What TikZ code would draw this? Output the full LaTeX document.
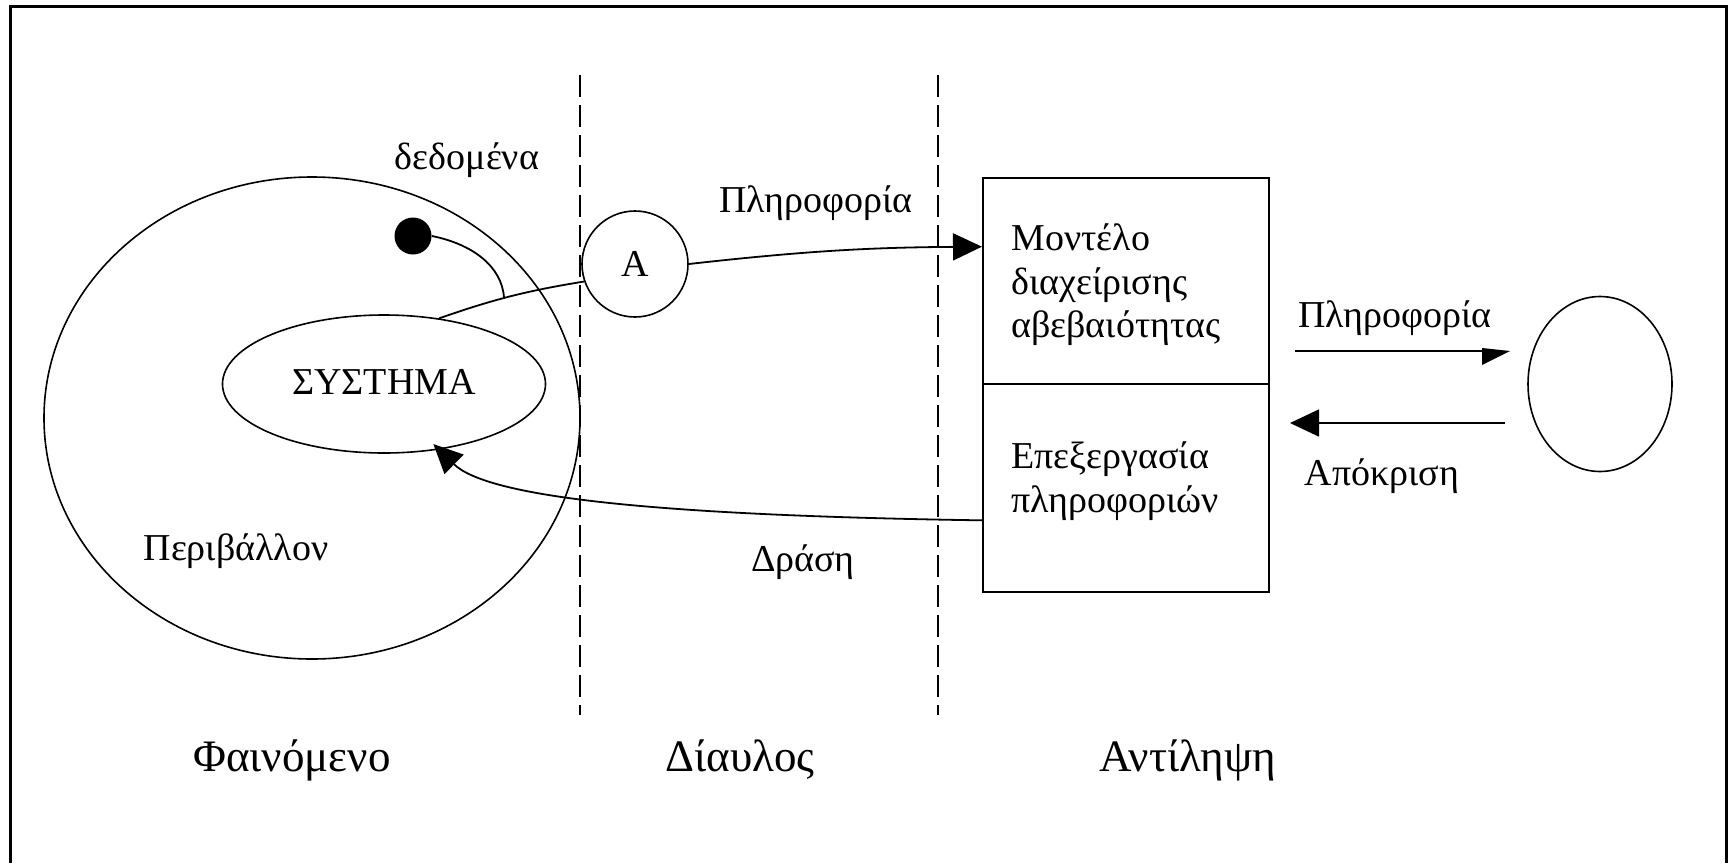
\documentclass[tikz,border=0pt]{standalone}
\usepackage{fontspec}
\setmainfont{Liberation Serif}
\usetikzlibrary{arrows.meta,calc,shapes.geometric}

\begin{document}
\begin{tikzpicture}[x=0.5pt,y=-0.5pt,
  line/.style={line width=0.9pt},
  txt/.style={inner sep=0pt, font=\fontsize{19}{22}\selectfont},
  big/.style={inner sep=0pt, font=\fontsize{22.5}{26}\selectfont},
  oval/.style={ellipse, draw, line width=0.8pt, inner sep=0pt},
  pane/.style={draw, line width=1pt, minimum width=143pt, inner sep=0pt},
  tip/.style={-{Triangle[length=14.5pt,width=13.5pt]}},
  divider/.style={dash pattern=on 11pt off 4pt, line width=1pt}
]
\useasboundingbox (0,0) rectangle (1729,863);

% open frame
\draw[line width=1.5pt] (10,863) -- (10,6) -- (1726,6) -- (1726,863);

% dashed dividers between the three zones
\draw[divider] (580,75) -- (580,715);
\draw[divider] (938,75) -- (938,715);

% phenomenon: environment, system and data point
\node[oval, minimum width=268pt, minimum height=241pt] (env) at (312,418) {};
\node[oval, minimum width=161.5pt, minimum height=69pt] (sys) at (384,384) {};
\node[txt, anchor=base] (systxt) at (384,394) {ΣΥΣΤΗΜΑ};
\node[circle, fill, minimum size=18.5pt, inner sep=0pt] (dot) at (413,236) {};
\node[txt, anchor=base] (data) at (467,169) {δεδομένα};
\node[txt, anchor=base] (envtxt) at (236,560) {Περιβάλλον};

% channel
\node[circle, draw, line width=0.8pt, minimum size=53pt, inner sep=0pt,
      font=\fontsize{19}{22}\selectfont] (A) at (635,264) {A};

% perception: two-part box and observer
\node[pane, minimum height=103pt] (model) at (1126,281) {};
\node[pane, minimum height=104pt] (proc) at (1126,488) {};
\node[txt, anchor=base west] (m1) at (1011,250) {Μοντέλο};
\node[txt, anchor=base west] (m2) at (1011,294) {διαχείρισης};
\node[txt, anchor=base west] (m3) at (1011,337) {αβεβαιότητας};
\node[txt, anchor=base west] (p1) at (1011,468) {Επεξεργασία};
\node[txt, anchor=base west] (p2) at (1011,512) {πληροφοριών};
\node[oval, minimum width=72pt, minimum height=87.5pt] (obs) at (1600,384) {};

% connector labels
\node[txt, anchor=base] (info1) at (816,212) {Πληροφορία};
\node[txt, anchor=base] (info2) at (1395,327) {Πληροφορία};
\node[txt, anchor=base] (resp) at (1382,485) {Απόκριση};
\node[txt, anchor=base] (act) at (803,571) {Δράση};

% zone titles
\node[big, anchor=base] (z1) at (292,771) {Φαινόμενο};
\node[big, anchor=base] (z2) at (740,771) {Δίαυλος};
\node[big, anchor=base] (z3) at (1188,771) {Αντίληψη};

% connectors
\draw[line] (A.199) to[bend right=5] coordinate[pos=0.55] (join) (sys.50);
\draw[line] (dot.east) .. controls +(40,8) and +(-2,-32) .. (join);
\draw[line, tip] (A.east) to[bend left=3] ($(model.north west)!0.335!(model.south west)$);
\draw[line, tip, shorten >=-4pt] ($(proc.north west)!0.654!(proc.south west)$)
  .. controls +(-333,-5) and +(48,47) .. (sys.310);

\coordinate (i0) at (1295,351);
\coordinate (i1) at (1510,351);
\draw[line] (i0) -- ($(i1)+(-20,0)$);
\fill (i1) -- ++(-28,-3) -- ++(0,17) -- cycle;

\coordinate (r0) at (1505,423);
\coordinate (r1) at (1290,423);
\draw[line, tip] (r0) -- (r1);
\end{tikzpicture}
\end{document}
